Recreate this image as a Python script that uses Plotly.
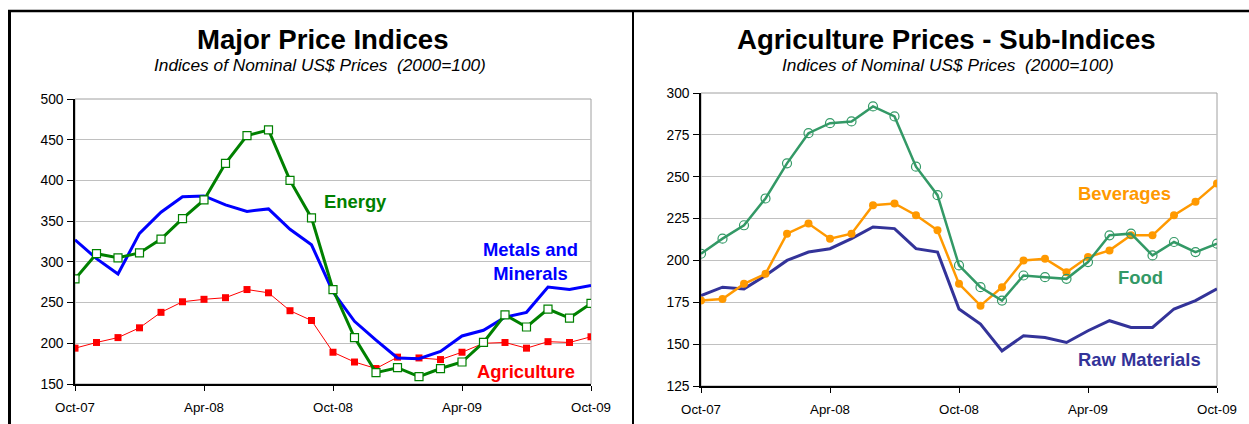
import plotly.graph_objects as go

W, H = 1249, 424

months = ["Oct-07", "Nov-07", "Dec-07", "Jan-08", "Feb-08", "Mar-08", "Apr-08", "May-08",
          "Jun-08", "Jul-08", "Aug-08", "Sep-08", "Oct-08", "Nov-08", "Dec-08", "Jan-09",
          "Feb-09", "Mar-09", "Apr-09", "May-09", "Jun-09", "Jul-09", "Aug-09", "Sep-09", "Oct-09"]
tick_labels = ["Oct-07", "Apr-08", "Oct-08", "Apr-09", "Oct-09"]

# Left panel: Major price indices
energy = [279, 310, 305, 311, 328, 353, 376, 421, 455, 462, 400, 354, 266,
          207, 164, 170, 159, 169, 177, 201, 235, 220, 242, 231, 249]
metals = [327, 304, 285, 335, 361, 380, 381, 370, 362, 365, 340, 321, 263,
          227, 204, 182, 181, 190, 209, 216, 232, 238, 269, 266, 271]
agriculture = [194, 201, 207, 219, 238, 251, 254, 256, 266, 262, 240, 228, 189,
               177, 169, 183, 182, 180, 189, 200, 201, 194, 202, 201, 208]

# Right panel: Agriculture sub-indices
food = [204, 213, 221, 237, 258, 276, 282, 283, 292, 286, 256, 239, 197,
        184, 176, 191, 190, 189, 199, 215, 216, 203, 211, 205, 210]
beverages = [176, 177, 186, 192, 216, 222, 213, 216, 233, 234, 227, 218, 186,
             173, 184, 200, 201, 193, 202, 206, 215, 215, 227, 235, 246]
raw_materials = [179, 184, 183, 191, 200, 205, 207, 213, 220, 219, 207, 205, 171,
                 162, 146, 155, 154, 151, 158, 164, 160, 160, 171, 176, 183]

FONT = "Liberation Sans, Arial, sans-serif"

fig = go.Figure()

# Left panel traces
fig.add_trace(go.Scatter(x=months, y=agriculture, mode="lines+markers", xaxis="x", yaxis="y",
                         line=dict(color="#FF0000", width=1),
                         marker=dict(symbol="square", size=7, color="#FF0000")))
fig.add_trace(go.Scatter(x=months, y=metals, mode="lines", xaxis="x", yaxis="y",
                         line=dict(color="#0000FF", width=3)))
fig.add_trace(go.Scatter(x=months, y=energy, mode="lines+markers", xaxis="x", yaxis="y",
                         line=dict(color="#008000", width=3),
                         marker=dict(symbol="square", size=8, color="white",
                                     line=dict(color="#008000", width=1.2))))

# Right panel traces
fig.add_trace(go.Scatter(x=months, y=raw_materials, mode="lines", xaxis="x2", yaxis="y2",
                         line=dict(color="#333399", width=3)))
fig.add_trace(go.Scatter(x=months, y=beverages, mode="lines+markers", xaxis="x2", yaxis="y2",
                         line=dict(color="#FF9900", width=2.5),
                         marker=dict(symbol="circle", size=8, color="#FF9900")))
fig.add_trace(go.Scatter(x=months, y=food, mode="lines+markers", xaxis="x2", yaxis="y2",
                         line=dict(color="#339966", width=2.5),
                         marker=dict(symbol="circle-open", size=9, color="#339966",
                                     line=dict(width=1.2))))

def px_x(p):
    return p / W

def px_y(p):
    return 1 - p / H

xaxis_common = dict(type="category", range=[0, 24], tickmode="array", tickvals=tick_labels,
                    ticktext=tick_labels, showgrid=False, showline=True, linecolor="black",
                    linewidth=1.5, ticks="outside", ticklen=5, tickcolor="black",
                    ticklabelstandoff=5,
                    tickfont=dict(family=FONT, size=13.3, color="black"), zeroline=False,
                    fixedrange=True, automargin=False)
yaxis_common = dict(showgrid=True, gridcolor="#C0C0C0", gridwidth=1, showline=True,
                    linecolor="black", linewidth=1.5, ticks="outside", ticklen=6,
                    tickcolor="black", ticklabelstandoff=1,
                    tickfont=dict(family=FONT, size=13.8, color="black"),
                    zeroline=False, fixedrange=True, automargin=False)

fig.update_layout(
    template="none",
    width=W, height=H,
    margin=dict(l=0, r=0, t=0, b=0, pad=0, autoexpand=False),
    paper_bgcolor="white", plot_bgcolor="white",
    showlegend=False,
    xaxis=dict(domain=[px_x(75), px_x(591)], anchor="y", **xaxis_common),
    yaxis=dict(domain=[px_y(384), px_y(99)], anchor="x", range=[150, 500], dtick=50,
               tick0=150, **yaxis_common),
    xaxis2=dict(domain=[px_x(701), px_x(1217)], anchor="y2", **xaxis_common),
    yaxis2=dict(domain=[px_y(386), px_y(93)], anchor="x2", range=[125, 300], dtick=25,
                tick0=125, **yaxis_common),
)

# plot-area outlines (gray top/right)
for xr, yr in (("x", "y"), ("x2", "y2")):
    fig.add_shape(type="rect", xref=xr + " domain", yref=yr + " domain", x0=0, x1=1, y0=0, y1=1,
                  line=dict(color="#A0A0A0", width=1), layer="below")

# panel borders
fig.add_shape(type="line", xref="paper", yref="paper", x0=px_x(9.5), x1=px_x(9.5),
              y0=px_y(10), y1=0, line=dict(color="black", width=3))
fig.add_shape(type="line", xref="paper", yref="paper", x0=px_x(8), x1=1,
              y0=px_y(11), y1=px_y(11), line=dict(color="black", width=2.5))
fig.add_shape(type="line", xref="paper", yref="paper", x0=px_x(633), x1=px_x(633),
              y0=px_y(10), y1=0, line=dict(color="black", width=2))

def text(x, y, s, size, color="black", bold=False, italic=False):
    if bold:
        s = "<b>" + s + "</b>"
    if italic:
        s = "<i>" + s + "</i>"
    fig.add_annotation(x=px_x(x), y=px_y(y), xref="paper", yref="paper", text=s,
                       showarrow=False, xanchor="center", yanchor="middle",
                       font=dict(family=FONT, size=size, color=color))

# Titles
text(323, 40, "Major Price Indices", 27.6, bold=True)
text(320, 65, "Indices of Nominal US$ Prices  (2000=100)", 17.3, italic=True)
text(946, 40, "Agriculture Prices - Sub-Indices", 27.6, bold=True)
text(948, 65, "Indices of Nominal US$ Prices  (2000=100)", 17.3, italic=True)

# Series labels
text(355, 201, "Energy", 18.4, color="#008000", bold=True)
fig.add_annotation(x=px_x(530), y=px_y(261), xref="paper", yref="paper",
                   text="<b>Metals and<br>Minerals</b>", showarrow=False, align="center",
                   xanchor="center", yanchor="middle",
                   font=dict(family=FONT, size=18.4, color="#0000FF"))
text(526, 371, "Agriculture", 18.4, color="#FF0000", bold=True)
text(1124, 194, "Beverages", 18.4, color="#FF9900", bold=True)
text(1140, 277, "Food", 18.4, color="#339966", bold=True)
text(1139, 359, "Raw Materials", 18.4, color="#333399", bold=True)

fig.write_html("out.html", config={"displayModeBar": False},
               post_script="document.body.style.margin='0';")
